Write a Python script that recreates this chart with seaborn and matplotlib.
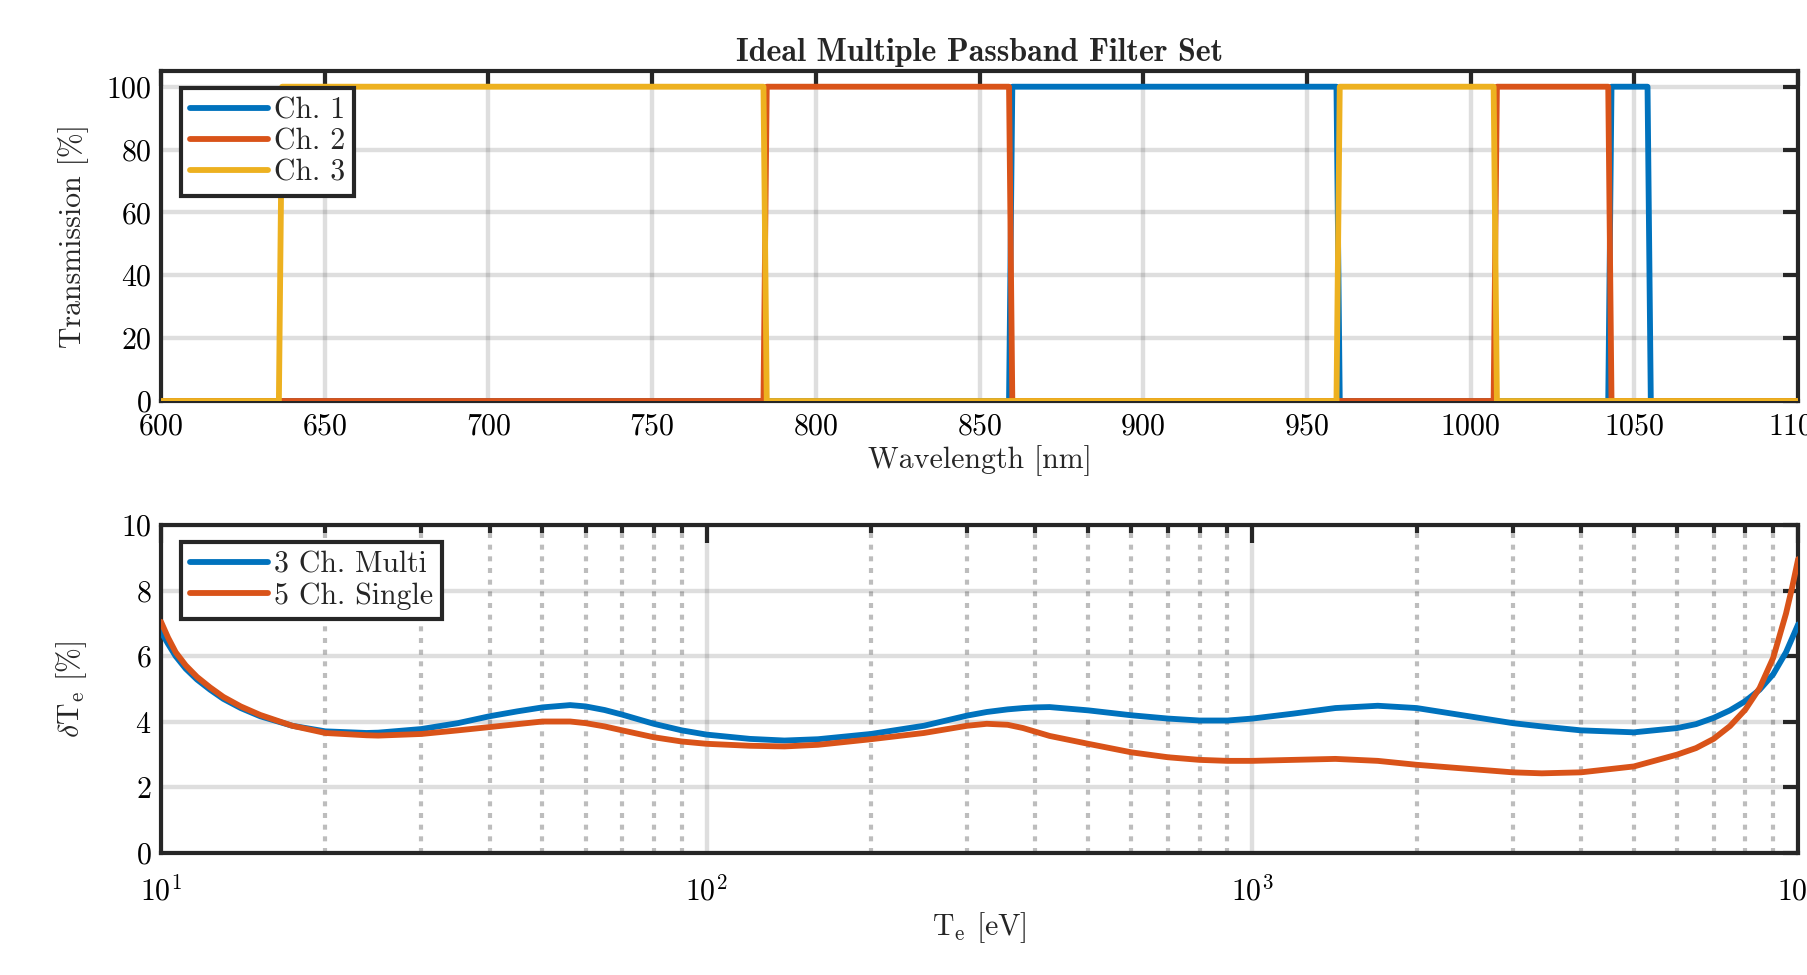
import numpy as np
import pandas as pd
import matplotlib
matplotlib.use("Agg")
import matplotlib.pyplot as plt
import matplotlib.ticker as mticker
import seaborn as sns

# ---------------- data ----------------
# Top panel: ideal passband filters (vertices of step transmission curves)
ch1_wl = [600, 859, 860, 959, 960, 1042, 1043, 1054, 1055, 1100]
ch1_tr = [0, 0, 100, 100, 0, 0, 100, 100, 0, 0]
ch2_wl = [600, 784, 785, 859, 860, 1007, 1008, 1042, 1043, 1100]
ch2_tr = [0, 0, 100, 100, 0, 0, 100, 100, 0, 0]
ch3_wl = [600, 636, 637, 784, 785, 959, 960, 1007, 1008, 1100]
ch3_tr = [0, 0, 100, 100, 0, 0, 100, 100, 0, 0]
filter_labels = ["Ch. 1", "Ch. 2", "Ch. 3"]

# Bottom panel: relative Te uncertainty
te_ev = [10, 10.3, 10.64, 11.1, 11.64, 12.3, 13.01, 14, 15.2, 17.4, 20, 23.8,
         25, 30, 35, 40, 45, 50, 56.2, 60, 65, 70, 80, 90, 100, 120, 138.8,
         160, 200, 250, 300, 326, 356, 380, 400, 425, 500, 600, 700, 800, 900,
         1000, 1188, 1419, 1697, 2000, 3000, 3390, 4000, 5000, 6000, 6500,
         7000, 7500, 8000, 8500, 9000, 9500, 9750, 10000]
multi_3ch = [6.75, 6.38, 6.00, 5.62, 5.29, 4.98, 4.70, 4.42, 4.17, 3.88, 3.71,
             3.66, 3.67, 3.78, 3.96, 4.17, 4.32, 4.44, 4.51, 4.47, 4.36, 4.22,
             3.94, 3.74, 3.61, 3.48, 3.43, 3.47, 3.63, 3.88, 4.19, 4.30, 4.38,
             4.42, 4.44, 4.45, 4.35, 4.20, 4.10, 4.04, 4.04, 4.10, 4.25, 4.42,
             4.49, 4.42, 3.96, 3.86, 3.74, 3.68, 3.81, 3.93, 4.12, 4.35, 4.63,
             4.98, 5.45, 6.12, 6.55, 6.97]
single_5ch = [7.05, 6.57, 6.12, 5.72, 5.37, 5.05, 4.76, 4.47, 4.21, 3.88, 3.66,
              3.59, 3.58, 3.63, 3.74, 3.84, 3.93, 4.01, 4.01, 3.96, 3.86, 3.74,
              3.53, 3.40, 3.33, 3.27, 3.25, 3.30, 3.47, 3.66, 3.88, 3.94, 3.91,
              3.81, 3.70, 3.57, 3.33, 3.07, 2.92, 2.84, 2.81, 2.81, 2.84, 2.87,
              2.81, 2.69, 2.46, 2.43, 2.46, 2.64, 3.00, 3.20, 3.48, 3.87, 4.37,
              5.03, 5.95, 7.30, 8.10, 8.96]
te_labels = ["3 Ch. Multi", "5 Ch. Single"]

# ---------------- style ----------------
sns.set_style("white")
plt.rcParams["font.family"] = ["cmr10"]
plt.rcParams["mathtext.fontset"] = "cm"
plt.rcParams["axes.formatter.use_mathtext"] = True
plt.rcParams["axes.unicode_minus"] = False

BLUE, ORANGE, YELLOW = "#0072BD", "#D95319", "#EDB120"
DARK = "#262626"
LW = 4.2
FS = 21.5

fig = plt.figure(figsize=(18.07, 9.75), dpi=100)
ax1 = fig.add_axes([0.0891, 0.5887, 0.906, 0.3385])
ax2 = fig.add_axes([0.0891, 0.1251, 0.906, 0.3364])

# ---------------- top panel ----------------
for wl, tr, col, lab in [(ch1_wl, ch1_tr, BLUE, filter_labels[0]),
                         (ch2_wl, ch2_tr, ORANGE, filter_labels[1]),
                         (ch3_wl, ch3_tr, YELLOW, filter_labels[2])]:
    df = pd.DataFrame({"wl": wl, "tr": tr})
    sns.lineplot(data=df, x="wl", y="tr", ax=ax1, color=col, lw=LW,
                 label=lab, estimator=None, sort=False, zorder=3)

ax1.set_xlim(600, 1100)
ax1.set_ylim(0, 105)
ax1.set_xticks(np.arange(600, 1101, 50))
ax1.set_yticks(np.arange(0, 101, 20))
ax1.set_xlabel("Wavelength [nm]", fontsize=FS, labelpad=3)
ax1.set_ylabel("Transmission [%]", fontsize=FS)
ax1.set_title("Ideal Multiple Passband Filter Set", fontfamily="cmb10",
              fontsize=23, pad=7)
ax1.grid(True, which="major", color=DARK, alpha=0.15, lw=3.2)

# ---------------- bottom panel ----------------
df2 = pd.DataFrame({"te": te_ev, "multi": multi_3ch, "single": single_5ch})
sns.lineplot(data=df2, x="te", y="multi", ax=ax2, color=BLUE, lw=LW,
             label=te_labels[0], estimator=None, zorder=3)
sns.lineplot(data=df2, x="te", y="single", ax=ax2, color=ORANGE, lw=LW,
             label=te_labels[1], estimator=None, zorder=3)
ax2.set_xscale("log")
ax2.set_xlim(10, 1e4)
ax2.set_ylim(0, 10)
ax2.set_yticks(np.arange(0, 11, 2))
ax2.xaxis.set_major_locator(mticker.LogLocator(base=10, numticks=10))
ax2.xaxis.set_minor_locator(mticker.LogLocator(base=10, subs=np.arange(2, 10), numticks=20))
ax2.xaxis.set_minor_formatter(mticker.NullFormatter())
ax2.set_xlabel(r"T$_\mathrm{e}$ [eV]", fontsize=FS, labelpad=3)
ax2.set_ylabel(r"$\delta$T$_\mathrm{e}$ [%]", fontsize=FS)
ax2.grid(True, which="major", color=DARK, alpha=0.15, lw=3.2)
ax2.grid(True, which="minor", axis="x", color="#bdbdbd", lw=3.0,
         linestyle=(0, (1.2, 1.6)))

# ---------------- common styling ----------------
for ax in (ax1, ax2):
    ax.set_axisbelow(True)
    for sp in ax.spines.values():
        sp.set_color(DARK)
        sp.set_linewidth(3.0)
        sp.set_visible(True)
    ax.tick_params(which="both", direction="in", top=True, right=True,
                   color=DARK, width=3.0, labelsize=FS, labelcolor="black")
    ax.tick_params(which="major", length=11, pad=7)
    ax.tick_params(which="minor", length=6)
    ax.yaxis.set_label_coords(-0.044, 0.5)
    leg = ax.legend(loc="upper left", bbox_to_anchor=(0.0122, 0.947),
                    borderaxespad=0, fontsize=FS, frameon=True, fancybox=False,
                    framealpha=1, edgecolor=DARK, handlelength=2.6,
                    labelspacing=0.12, borderpad=0.3, handletextpad=0.2)
    leg.get_frame().set_linewidth(3.0)
    for h in leg.get_lines():
        h.set_linewidth(LW)

ax1.tick_params(axis="x", which="major", pad=9)
ax2.tick_params(axis="x", which="major", length=13, pad=16)

fig.savefig("out.png", dpi=100)
